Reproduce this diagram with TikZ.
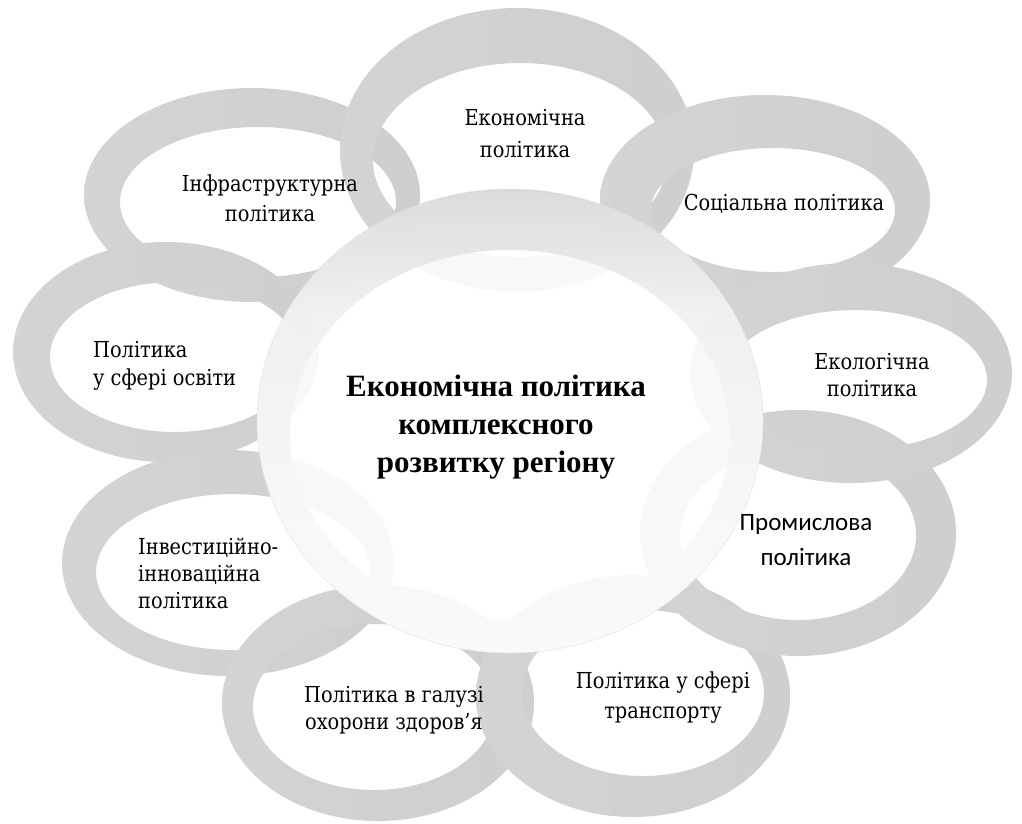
\documentclass[tikz,border=0pt]{standalone}
\usepackage{fontspec}
\setmainfont{Liberation Serif}
\newfontfamily\calib{Carlito}
\newfontfamily\loopfont{DejaVu Serif}[FakeStretch=0.88]
% rim of the central disc: grey only near its top
\pgfdeclareverticalshading{rimfade}{100bp}{%
  color(0bp)=(white); color(40bp)=(black!3); color(62bp)=(black!6);
  color(74bp)=(black!14); color(84bp)=(black!32); color(100bp)=(black!40)}
\begin{document}
\begin{tikzpicture}[x=1pt,y=-1pt,
  ribbonshade/.style={even odd rule,left color=black!17,middle color=black!47,right color=black!19},
  looptext/.style={align=center,inner sep=0pt,font=\loopfont\fontsize{22}{#1}\selectfont},
  looptext/.default=30,
  hubtext/.style={align=center,inner sep=0pt,font=\fontsize{31}{38}\selectfont\bfseries}]
\useasboundingbox (0,0) rectangle (1022,823);
\fill[white] (0,0) rectangle (1022,823);

% a ribbon loop: outer ellipse minus an offset inner ellipse
\newcommand\ribbonloop[8]{%
  \shade[ribbonshade]
    (#1,#2) ellipse [x radius=#3pt, y radius=#4pt]
    (#5,#6) ellipse [x radius=#7pt, y radius=#8pt];}

% loops, back to front
\ribbonloop{252}{195}{168}{107}{258}{202}{138}{75}   % infrastructure
\ribbonloop{166}{352}{153}{110}{175}{357}{125}{75}   % education
\ribbonloop{228}{563}{166}{113}{233}{572}{137}{78}   % investment
\ribbonloop{378}{703}{156}{118}{374}{707}{121}{83}   % health care
\ribbonloop{633}{696}{157}{121}{643}{693}{121}{83}   % transport
\ribbonloop{798}{533}{158}{123}{798}{535}{118}{85}   % industry
\ribbonloop{517}{150}{177}{142}{520}{160}{147}{97}   % economy
\ribbonloop{765}{200}{165}{105}{773}{210}{122}{62}   % social
\ribbonloop{851}{373}{161}{110}{856}{380}{131}{70}   % ecology

% central disc: translucent white face and a shaded rim
\fill[white,fill opacity=0.86] (510,421) ellipse [x radius=253pt, y radius=232pt];
\shade[even odd rule,shading=rimfade,opacity=0.93]
  (510,421) ellipse [x radius=253pt, y radius=232pt]
  (510,435) ellipse [x radius=220pt, y radius=185pt];
\draw[black!12,line width=0.4pt] (510,421) ellipse [x radius=253pt, y radius=232pt];

% labels
\node[looptext=32] (econ)   at (525,134) {Економічна\\політика};
\node[looptext]    (social) at (784,204) {Соціальна політика};
\node[looptext=27] (eco)    at (872,375) {Екологічна\\політика};
\node[align=center,inner sep=0pt,font=\calib\fontsize{25}{35}\selectfont] (ind) at (806,540) {Промислова\\політика};
\node[looptext]    (trans)  at (663,698) {Політика у сфері\\транспорту};
\node[looptext=27] (health) at (394,710) {Політика в галузі\\охорони здоров’я};
\node[looptext=27,align=left,anchor=west] (invest) at (138,573) {Інвестиційно-\\інноваційна\\політика};
\node[looptext=28,align=left,anchor=west] (edu)    at (93,366)  {Політика\\у сфері освіти};
\node[looptext]    (infra)  at (270,198) {Інфраструктурна\\політика};
\node[hubtext]     (core)   at (496,427) {Економічна політика\\комплексного\\розвитку регіону};
\end{tikzpicture}
\end{document}
